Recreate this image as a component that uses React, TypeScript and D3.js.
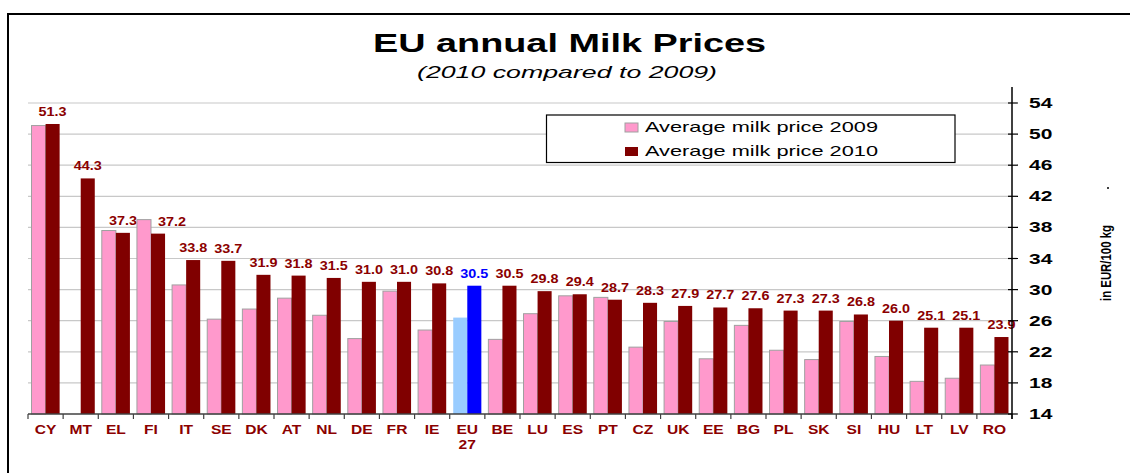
import React from "react";
import * as d3 from "d3";

const categories = ["CY","MT","EL","FI","IT","SE","DK","AT","NL","DE","FR","IE","EU 27","BE","LU","ES","PT","CZ","UK","EE","BG","PL","SK","SI","HU","LT","LV","RO"];
const price2009: (number | null)[] = [51.1,null,37.6,39.0,30.6,26.2,27.5,28.9,26.7,23.7,29.8,24.8,26.4,23.6,26.9,29.2,29.0,22.6,25.9,21.1,25.4,22.2,21.0,25.9,21.4,18.2,18.6,20.3];
const price2010: number[] = [51.3,44.3,37.3,37.2,33.8,33.7,31.9,31.8,31.5,31.0,31.0,30.8,30.5,30.5,29.8,29.4,28.7,28.3,27.9,27.7,27.6,27.3,27.3,26.8,26.0,25.1,25.1,23.9];
const yTicks = [14,18,22,26,30,34,38,42,46,50,54];
const seriesNames = ["Average milk price 2009","Average milk price 2010"];
const highlight = "EU 27";

const W = 1130, H = 473;
const PINK = "#FF99CC", MAROON = "#800000", LABEL = "#8B0000";
const FONT = "'Liberation Sans', Arial, sans-serif";

function SText({x, y, sx = 1, anchor = "middle", size, weight = "bold", fill = "#000", style, children}: any) {
  return (
    <text transform={`translate(${x},${y}) scale(${sx},1)`} textAnchor={anchor}
      fontFamily={FONT} fontSize={size} fontWeight={weight} fill={fill} fontStyle={style}>{children}</text>
  );
}

export default function App() {
  const x = d3.scaleBand<string>().domain(categories).range([28, 1012]).paddingInner(0.2).paddingOuter(0.1);
  const x1 = d3.scaleBand<string>().domain(["2009","2010"]).range([0, x.bandwidth()]);
  const y = d3.scaleLinear().domain([14, 54]).range([414, 103]);
  const step = x.step();

  return (
    <svg width={W} height={H} style={{position: "absolute", left: 0, top: 0}} xmlns="http://www.w3.org/2000/svg">
      <rect x={0} y={0} width={W} height={H} fill="#fff" />
      <rect x={8} y={14} width={1300} height={600} fill="none" stroke="#000" strokeWidth={2} />
      {/* title */}
      <text x={569.5} y={52} textAnchor="middle" fontFamily={FONT} fontSize={26} fontWeight="bold"
        textLength={393} lengthAdjust="spacingAndGlyphs">EU annual Milk Prices</text>
      <text x={567} y={78} textAnchor="middle" fontFamily={FONT} fontSize={17} fontStyle="italic"
        textLength={300} lengthAdjust="spacingAndGlyphs">(2010 compared to 2009)</text>
      {/* gridlines */}
      {yTicks.slice(1).map(t => (
        <line key={t} x1={28} x2={1012} y1={y(t)} y2={y(t)} stroke="#C8C8C8" strokeWidth={1.2} />
      ))}
      {/* bars */}
      {categories.map((c, i) => {
        const bx = x(c)!;
        const v9 = price2009[i];
        const v10 = price2010[i];
        const hl = c === highlight;
        const labelY = y(v10) - 8;
        const blocked = v9 != null && y(v9) < labelY;
        const labelX = bx + x1("2010")! + x1.bandwidth() / 2 + (blocked ? x1.bandwidth() : 0);
        return (
          <g key={c}>
            {v9 != null && (
              <rect x={bx + x1("2009")!} y={y(v9)} width={x1.bandwidth()} height={y(14) - y(v9)}
                fill={hl ? "#99CCFF" : PINK} stroke={hl ? "none" : "#A0A0A0"} strokeWidth={1} />
            )}
            <rect x={bx + x1("2010")!} y={y(v10)} width={x1.bandwidth()} height={y(14) - y(v10)}
              fill={hl ? "#0000FF" : MAROON} />
            <SText x={labelX} y={labelY} sx={1.2} size={12}
              fill={hl ? "#0000FF" : LABEL}>{v10.toFixed(1)}</SText>
            {c.split(" ").map((part, k) => (
              <SText key={k} x={bx + x.bandwidth() / 2} y={434 + k * 15} sx={1.3} size={12} fill={LABEL}>{part}</SText>
            ))}
          </g>
        );
      })}
      {/* baseline and category ticks */}
      <line x1={28} x2={1012} y1={414} y2={414} stroke="#404040" strokeWidth={1.5} />
      {d3.range(categories.length + 1).map(k => (
        <line key={k} x1={28 + k * step} x2={28 + k * step} y1={414} y2={419} stroke="#404040" strokeWidth={1.2} />
      ))}
      {/* right axis */}
      <line x1={1012} x2={1012} y1={87} y2={419} stroke="#000" strokeWidth={1.5} />
      {yTicks.map(t => (
        <g key={t}>
          <line x1={1008} x2={1018} y1={y(t)} y2={y(t)} stroke="#000" strokeWidth={1.2} />
          <SText x={1029} y={y(t) + 5} sx={1.5} size={14} anchor="start">{t}</SText>
        </g>
      ))}
      <text transform="translate(1111,263) rotate(-90)" textAnchor="middle" fontFamily={FONT} fontSize={15}
        fontWeight="bold" textLength={76} lengthAdjust="spacingAndGlyphs">in EUR/100 kg</text>
      <circle cx={1108} cy={188} r={1} fill="#000" />
      {/* legend */}
      <rect x={546.5} y={115} width={408.5} height={47.5} fill="#fff" stroke="#000" strokeWidth={1.2} />
      {seriesNames.map((s, k) => (
        <g key={s}>
          <rect x={625} y={123 + k * 24} width={13} height={9} fill={k === 0 ? PINK : MAROON}
            stroke={k === 0 ? "#A0A0A0" : "none"} />
          <text x={645} y={132 + k * 24} fontFamily={FONT} fontSize={15} textLength={233}
            lengthAdjust="spacingAndGlyphs">{s}</text>
        </g>
      ))}
    </svg>
  );
}
